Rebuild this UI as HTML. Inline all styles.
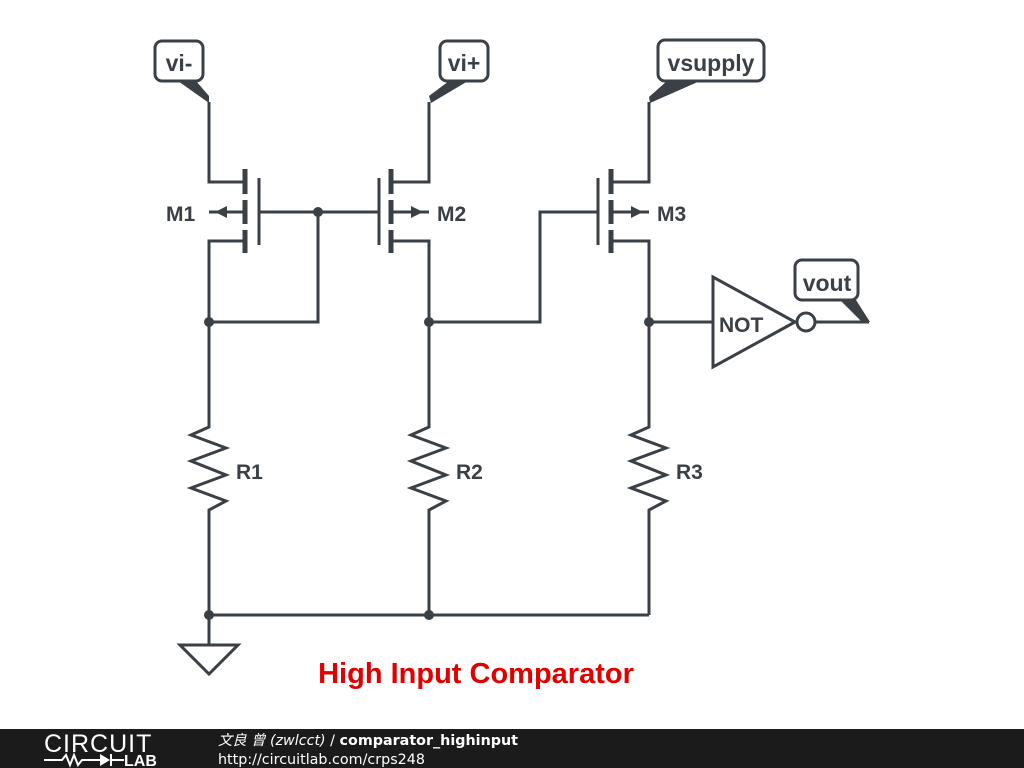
<!DOCTYPE html>
<html><head><style>
body{margin:0;width:1024px;height:768px;background:#fff;overflow:hidden}
svg{display:block}
text{font-family:"Liberation Sans",Arial,sans-serif;font-weight:bold;fill:#3a4045}
</style></head><body>
<svg width="1024" height="768" viewBox="0 0 1024 768">
<g stroke="#3a4045" stroke-width="3" fill="none" stroke-linejoin="miter">
<polyline points="209,102 209,182 244,182"/>
<polyline points="244,212 209,212"/>
<polyline points="244,241 209,241 209,322 318,322 318,212"/>
<line x1="259" y1="178" x2="259" y2="245"/>
<line x1="259" y1="212" x2="379" y2="212"/>
<g stroke-width="5">
<line x1="245" y1="169" x2="245" y2="194"/><line x1="245" y1="200" x2="245" y2="224"/><line x1="245" y1="230" x2="245" y2="253"/>
<line x1="391" y1="169" x2="391" y2="194"/><line x1="391" y1="200" x2="391" y2="224"/><line x1="391" y1="230" x2="391" y2="253"/>
<line x1="611" y1="169" x2="611" y2="194"/><line x1="611" y1="200" x2="611" y2="224"/><line x1="611" y1="230" x2="611" y2="253"/>
</g>
<line x1="379" y1="178" x2="379" y2="245"/>
<polyline points="429,102 429,182 392,182"/>
<polyline points="392,212 429,212"/>
<polyline points="392,241 429,241 429,322 540,322 540,212 598,212"/>
<line x1="598" y1="178" x2="598" y2="245"/>
<polyline points="649,102 649,182 612,182"/>
<polyline points="612,212 649,212"/>
<polyline points="612,241 649,241 649,322 713,322"/>
<polyline points="209,322 209,427 191,435 226,448 191,461 226,475 191,488 226,501 209,510 209,615"/>
<polyline points="429,322 429,427 411,435 446,448 411,461 446,475 411,488 446,501 429,510 429,615"/>
<polyline points="649,322 649,427 631,435 666,448 631,461 666,475 631,488 666,501 649,510 649,615"/>
<line x1="209" y1="615" x2="649" y2="615"/>
<line x1="209" y1="615" x2="209" y2="645"/>
<polygon points="180,645 238,645 209,674"/>
<polygon points="713,277 713,367 795,322"/>
<circle cx="806" cy="322" r="9" fill="#fff"/>
<line x1="815" y1="322" x2="869" y2="322"/>
<rect x="155" y="41" width="48" height="40" rx="7" fill="#fff"/>
<rect x="440" y="41" width="48" height="40" rx="7" fill="#fff"/>
<rect x="658" y="40" width="106" height="41" rx="7" fill="#fff"/>
<rect x="795" y="260" width="63" height="40" rx="7" fill="#fff"/>
</g>
<g fill="#3a4045">
<polygon points="178,81 196,81 209,96 209,103"/>
<polygon points="449,81 468,81 431,103 429,96"/>
<polygon points="667,81 700,81 650,103 649,97"/>
<polygon points="840,300 856,300 870,322 862,322"/>
<polygon points="215,212 227,206 227,218"/>
<polygon points="423,212 411,206 411,218"/>
<polygon points="643,212 631,206 631,218"/>
<circle cx="318" cy="212" r="5"/><circle cx="209" cy="322" r="5"/><circle cx="429" cy="322" r="5"/>
<circle cx="649" cy="322" r="5"/><circle cx="209" cy="615" r="5"/><circle cx="429" cy="615" r="5"/>
</g>
<g font-size="23">
<text x="179" y="71" text-anchor="middle">vi-</text>
<text x="464" y="71" text-anchor="middle">vi+</text>
<text x="711" y="71" text-anchor="middle">vsupply</text>
<text x="827" y="291" text-anchor="middle">vout</text>
<text x="166" y="221" font-size="21">M1</text>
<text x="437" y="221" font-size="21">M2</text>
<text x="657" y="221" font-size="21">M3</text>
<text x="236" y="479" font-size="21">R1</text>
<text x="456" y="479" font-size="21">R2</text>
<text x="676" y="479" font-size="21">R3</text>
<text x="719" y="332" font-size="21">NOT</text>
</g>
<text x="476" y="683" text-anchor="middle" font-size="29" style="fill:#e00000">High Input Comparator</text>
<rect x="0" y="729" width="1024" height="39" fill="#1b1b1b"/>
<text x="44" y="752" font-size="25" style="fill:#fff;font-weight:normal;letter-spacing:1px">CIRCUIT</text>
<text x="124" y="766" font-size="16" style="fill:#fff">LAB</text>
<polyline points="44,760 62,760 66,755 70,765 74,755 78,765 82,760 100,760" stroke="#fff" stroke-width="2" fill="none"/>
<polygon points="100,754 100,766 110,760" fill="#fff"/>
<line x1="110" y1="760" x2="124" y2="760" stroke="#fff" stroke-width="2"/>
<line x1="111" y1="754" x2="111" y2="766" stroke="#fff" stroke-width="2"/>
<text x="218" y="745" font-size="14.3" style="fill:#fff;font-weight:normal;font-family:'DejaVu Sans','Noto Sans CJK SC',sans-serif"><tspan font-style="italic">文良 曾 (zwlcct)</tspan> / <tspan font-weight="bold">comparator_highinput</tspan></text>
<text x="218" y="764" font-size="14.3" style="fill:#fff;font-weight:normal;font-family:'DejaVu Sans',sans-serif">http://circuitlab.com/crps248</text>
</svg>
</body></html>
